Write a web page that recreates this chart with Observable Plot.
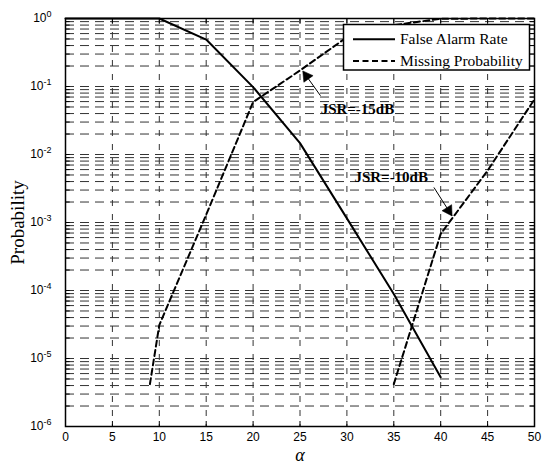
<!DOCTYPE html>
<html><head><meta charset="utf-8">
<script src="https://cdn.jsdelivr.net/npm/d3@7"></script>
<script src="https://cdn.jsdelivr.net/npm/@observablehq/plot@0.6"></script>
<style>body{margin:0;background:#fff}svg{display:block}</style>
</head><body><div id="chart"></div>
<script>
// ---- data ----
const alphaFA = [0, 5, 10, 15, 20, 25, 30, 35, 40];
const falseAlarm = [1, 1, 1, 0.49, 0.098, 0.0147, 1.15e-3, 8.9e-5, 5.3e-6];
const alphaM15 = [9, 10, 15, 20, 25, 30, 35, 40, 45, 50];
const missing15 = [4.2e-6, 3.1e-5, 1.3e-3, 0.059, 0.172, 0.53, 0.8, 0.99, 1, 1];
const alphaM10 = [35, 40, 45, 50];
const missing10 = [4.2e-6, 6.8e-4, 5.8e-3, 0.065];
const xTicks = [0, 5, 10, 15, 20, 25, 30, 35, 40, 45, 50];
const yTicks = [1e-6, 1e-5, 1e-4, 1e-3, 1e-2, 1e-1, 1];
const seriesNames = ["False Alarm Rate", "Missing Probability"];
const annLabels = ["JSR=-15dB", "JSR=-10dB"];
const annTextX = [27.2, 30.8];
const annTextY = [0.04, 3.9e-3];
const annTailX = [27.16, 39.3];
const annTailY = [0.074, 3.24e-3];
const annHeadX = [25.38, 41.18];
const annHeadY = [0.163, 1.27e-3];
const annHeadRotate = [-35.6, 147.5];

// ---- derived tables ----
const fa = alphaFA.map((a, i) => ({a, p: falseAlarm[i]}));
const m15 = alphaM15.map((a, i) => ({a, p: missing15[i]}));
const m10 = alphaM10.map((a, i) => ({a, p: missing10[i]}));
const ann = annLabels.map((label, i) => {
  const t = 0.82;
  return {
    label, tx: annTextX[i], ty: annTextY[i],
    x1: annTailX[i], y1: annTailY[i], x2: annHeadX[i], y2: annHeadY[i],
    hx: annTailX[i] + t * (annHeadX[i] - annTailX[i]),
    hy: Math.pow(10, Math.log10(annTailY[i]) + t * (Math.log10(annHeadY[i]) - Math.log10(annTailY[i]))),
    rot: annHeadRotate[i]
  };
});
const gridY = [];
for (let k = -6; k < 0; k++) for (let m = 1; m <= 9; m++) if (!(k === -6 && m === 1)) gridY.push(m * Math.pow(10, k));
const innerX = xTicks.slice(1, -1);
const yMinor = gridY;

const serif = "'Liberation Serif', 'Times New Roman', serif";
const sans = "'Liberation Sans', Arial, sans-serif";
const tickLenY = 5 / 68; // decades for 5px inward ticks

const chart = Plot.plot({
  width: 542, height: 465,
  marginLeft: 65, marginRight: 8, marginTop: 18, marginBottom: 39,
  x: {domain: [0, 50]},
  y: {type: "log", domain: [1e-6, 1]},
  style: {fontFamily: sans, fontSize: "12px", background: "white", color: "black"},
  marks: [
    Plot.ruleY(gridY, {stroke: "#333", strokeWidth: 1, strokeDasharray: "9,6"}),
    Plot.ruleX(innerX, {stroke: "#333", strokeWidth: 1, strokeDasharray: "6,8"}),
    // inward ticks
    Plot.ruleX(innerX, {y1: 1e-6, y2: 1e-6 * Math.pow(10, tickLenY), stroke: "black"}),
    Plot.ruleX(innerX, {y1: 1, y2: Math.pow(10, -tickLenY), stroke: "black"}),
    Plot.ruleY(yMinor, {x1: 0, x2: 0.5, stroke: "black"}),
    Plot.ruleY(yMinor, {x1: 49.5, x2: 50, stroke: "black"}),
    // curves
    Plot.line(fa, {x: "a", y: "p", stroke: "black", strokeWidth: 2}),
    Plot.line(m15, {x: "a", y: "p", stroke: "black", strokeWidth: 2, strokeDasharray: "6,3.5"}),
    Plot.line(m10, {x: "a", y: "p", stroke: "black", strokeWidth: 2, strokeDasharray: "6,3.5"}),
    // annotations
    Plot.arrow(ann, {x1: "x1", y1: "y1", x2: "x2", y2: "y2", stroke: "black", strokeWidth: 1, headLength: 0}),
    Plot.dot(ann, {x: "hx", y: "hy", symbol: "triangle", r: 4.2, fill: "black", stroke: "black", strokeWidth: 0.5, rotate: "rot"}),
    Plot.text(ann, {x: "tx", y: "ty", text: "label", textAnchor: "start", lineAnchor: "bottom", fontFamily: serif, fontWeight: "bold", fontSize: 15, fill: "black"}),
    Plot.frame({stroke: "black", strokeWidth: 1.5}),
    Plot.axisX({ticks: xTicks, tickSize: 0, tickPadding: 6, label: null, fontSize: 12}),
    Plot.axisY({ticks: yTicks, tickSize: 0, tickPadding: 14, label: null, fontSize: 12,
      tickFormat: d => "10^" + Math.round(Math.log10(d))}),
    Plot.text(["α"], {frameAnchor: "bottom", dy: 29, textAnchor: "middle", lineAnchor: "middle", fontFamily: serif, fontStyle: "italic", fontSize: 18, fill: "black"}),
    Plot.text(["Probability"], {frameAnchor: "left", dx: -48, rotate: -90, textAnchor: "middle", lineAnchor: "middle", fontFamily: serif, fontSize: 19, fill: "black"})
  ]
});

// superscript exponents on y tick labels
d3.select(chart).selectAll('g[aria-label="y-axis tick label"] text').each(function() {
  const s = this.textContent;
  const exp = s.split("^")[1];
  const t = d3.select(this);
  t.text("");
  t.append("tspan").text("10");
  t.append("tspan").attr("dy", "-0.55em").attr("font-size", "9px").text(exp);
});

// legend box
const svg = d3.select(chart);
const lg = svg.append("g").attr("aria-label", "legend").attr("text-anchor", "start");
lg.append("rect").attr("x", 343.5).attr("y", 24.5).attr("width", 186).attr("height", 45.5)
  .attr("fill", "white").attr("stroke", "black").attr("stroke-width", 1.5);
const rowsY = [39.3, 61];
seriesNames.forEach((name, i) => {
  lg.append("line").attr("x1", 353).attr("x2", 395).attr("y1", rowsY[i]).attr("y2", rowsY[i])
    .attr("stroke", "black").attr("stroke-width", 2)
    .attr("stroke-dasharray", i === 1 ? "6,3.5" : null);
  lg.append("text").attr("x", 400).attr("y", rowsY[i] + 4.5).attr("text-anchor", "start")
    .attr("font-family", serif).attr("font-size", 15.5).attr("fill", "black").text(name);
});

document.getElementById("chart").appendChild(chart);
</script>
</body></html>
